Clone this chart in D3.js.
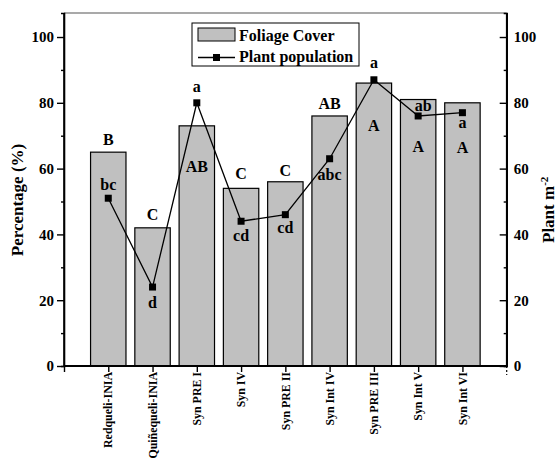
<!DOCTYPE html>
<html>
<head>
<meta charset="utf-8">
<script src="https://cdn.jsdelivr.net/npm/d3@7"></script>
<style>
  html, body { margin: 0; padding: 0; background: #fff; }
  svg { display: block; }
  text { font-family: "Liberation Serif", "Times New Roman", serif; font-weight: bold; fill: #000; }
</style>
</head>
<body>
<svg id="chart" width="559" height="461"></svg>
<script>
// Cultivars / synthetic populations on the x axis
const categories = ["Redqueli-INIA", "Quiñequeli-INIA", "Syn PRE I", "Syn IV", "Syn PRE II",
                    "Syn Int IV", "Syn PRE III", "Syn Int V", "Syn Int VI"];
// Foliage cover (%) – bars, left axis
const foliageCover = [65, 42, 73, 54, 56, 76, 86, 81, 80];
// Plant population (plants m-2) – line, right axis
const plantPopulation = [51, 24, 80, 44, 46, 63, 87, 76, 77];
// Mean separation letters
const coverLetters = ["B", "C", "AB", "C", "C", "AB", "A", "A", "A"];
const populationLetters = ["bc", "d", "a", "cd", "cd", "abc", "a", "ab", "a"];
// Tick values
const majorTicks = [0, 20, 40, 60, 80, 100];
const minorTicks = [10, 30, 50, 70, 90];

// Letter placement relative to the mark (pixels, baseline offset)
const coverLetterDy = [-7, -8, 46, -9, -6, -7, 48, 52, 50];
const populationLetterDy = [-8, 21, -11, 20, 18, 21, -12, -5, 15];
const populationLetterDx = [0, 0, 0, 0, 0, 0, 0, 5, 0];

const svg = d3.select("#chart");
const plotLeft = 64, plotRight = 506.7, plotTop = 13, plotBottom = 366;

const x = d3.scaleLinear().domain([0, 10]).range([plotLeft, plotRight]);
const y = d3.scaleLinear().domain([0, 107.3]).range([plotBottom, plotTop]);
const yR = d3.scaleLinear().domain([0, 107.3]).range([plotBottom, plotTop]);
const slot = x(1) - x(0);
const barW = slot * 0.8;

// Frame top line
svg.append("line").attr("x1", plotLeft).attr("x2", plotRight).attr("y1", plotTop).attr("y2", plotTop)
  .attr("stroke", "#555").attr("stroke-width", 1.2);

// Bars
svg.append("g").selectAll("rect").data(foliageCover).join("rect")
  .attr("x", (d, i) => x(i + 1) - barW / 2)
  .attr("y", d => y(d))
  .attr("width", barW)
  .attr("height", d => y(0) - y(d))
  .attr("fill", "#c0c0c0")
  .attr("stroke", "#000")
  .attr("stroke-width", 1.2);

// Left axis
const gL = svg.append("g").attr("transform", `translate(${plotLeft},0)`);
gL.call(d3.axisLeft(y).tickValues(majorTicks).tickSize(7).tickPadding(3).tickFormat(d3.format("d")));
gL.append("g").call(d3.axisLeft(y).tickValues(minorTicks).tickSize(3).tickFormat(""));
// Right axis (ticks point inward, labels outside)
const gR = svg.append("g").attr("transform", `translate(${plotRight},0)`);
gR.call(d3.axisRight(yR).tickValues(majorTicks).tickSize(-7).tickPadding(7).tickFormat(d3.format("d")));
gR.append("g").call(d3.axisRight(yR).tickValues(minorTicks).tickSize(-3).tickFormat(""));
// Bottom axis
const gB = svg.append("g").attr("transform", `translate(0,${plotBottom})`);
gB.call(d3.axisBottom(x).tickValues(d3.range(0, 10)).tickSize(6).tickFormat(""));

[gL, gR, gB].forEach(g => {
  g.attr("font-family", null);
  g.selectAll(".domain").attr("stroke", "#000").attr("stroke-width", 1.6);
  g.selectAll(".tick line").attr("stroke", "#000").attr("stroke-width", 1.4);
  g.selectAll(".tick text")
    .style("font-size", "15px")
    .style("font-family", "'Liberation Serif', serif")
    .style("font-weight", "bold");
});
gL.select(".domain").attr("d", `M0,${plotTop}V${plotBottom}`);
gR.select(".domain").attr("d", `M0,${plotTop}V${plotBottom}`);
gB.select(".domain").attr("d", `M${plotLeft},0H${plotRight}`).attr("stroke-width", 2);
// right end tick below the baseline
gB.append("line").attr("x1", x(10)).attr("x2", x(10)).attr("y1", 0).attr("y2", 9)
  .attr("stroke", "#000").attr("stroke-width", 1.2).attr("stroke-dasharray", "2,2");

// Category labels (rotated)
svg.append("g").selectAll("text").data(categories).join("text")
  .attr("transform", (d, i) => `translate(${x(i + 1)},${plotBottom + 6}) rotate(-90)`)
  .attr("text-anchor", "end")
  .attr("dy", "0.35em")
  .attr("font-size", 11.9)
  .text(d => d);

// Plant population line + markers
const line = d3.line().x((d, i) => x(i + 1)).y(d => yR(d));
svg.append("path").datum(plantPopulation)
  .attr("d", line).attr("fill", "none").attr("stroke", "#000").attr("stroke-width", 1.3);
svg.append("g").selectAll("rect").data(plantPopulation).join("rect")
  .attr("x", (d, i) => x(i + 1) - 3.5)
  .attr("y", d => yR(d) - 3.5)
  .attr("width", 7).attr("height", 7)
  .attr("fill", "#000");

// Letters for bars
svg.append("g").selectAll("text").data(coverLetters).join("text")
  .attr("x", (d, i) => x(i + 1))
  .attr("y", (d, i) => y(foliageCover[i]) + coverLetterDy[i])
  .attr("text-anchor", "middle")
  .attr("font-size", 16)
  .text(d => d);

// Letters for line points
svg.append("g").selectAll("text").data(populationLetters).join("text")
  .attr("x", (d, i) => x(i + 1) + populationLetterDx[i])
  .attr("y", (d, i) => yR(plantPopulation[i]) + populationLetterDy[i])
  .attr("text-anchor", "middle")
  .attr("font-size", 16)
  .text(d => d);

// Axis titles
svg.append("text")
  .attr("transform", `translate(23,200) rotate(-90)`)
  .attr("text-anchor", "middle")
  .attr("font-size", 17)
  .text("Percentage (%)");

const rt = svg.append("text")
  .attr("transform", `translate(554,243) rotate(-90)`)
  .attr("text-anchor", "start")
  .attr("font-size", 17);
rt.append("tspan").text("Plant m");
rt.append("tspan").attr("font-size", 11).attr("dy", -6).text("-2");

// Legend
const lg = svg.append("g");
lg.append("rect").attr("x", 192).attr("y", 23).attr("width", 167).attr("height", 43)
  .attr("fill", "#fff").attr("stroke", "#000").attr("stroke-width", 1);
lg.append("rect").attr("x", 198).attr("y", 28).attr("width", 37).attr("height", 13)
  .attr("fill", "#c0c0c0").attr("stroke", "#000").attr("stroke-width", 1);
lg.append("line").attr("x1", 198).attr("x2", 235).attr("y1", 57.5).attr("y2", 57.5)
  .attr("stroke", "#000").attr("stroke-width", 1.3);
lg.append("rect").attr("x", 213).attr("y", 54).attr("width", 7).attr("height", 7).attr("fill", "#000");
lg.append("text").attr("x", 239).attr("y", 40.5).attr("font-size", 16).text("Foliage Cover");
lg.append("text").attr("x", 239).attr("y", 62).attr("font-size", 16).text("Plant population");
</script>
</body>
</html>
